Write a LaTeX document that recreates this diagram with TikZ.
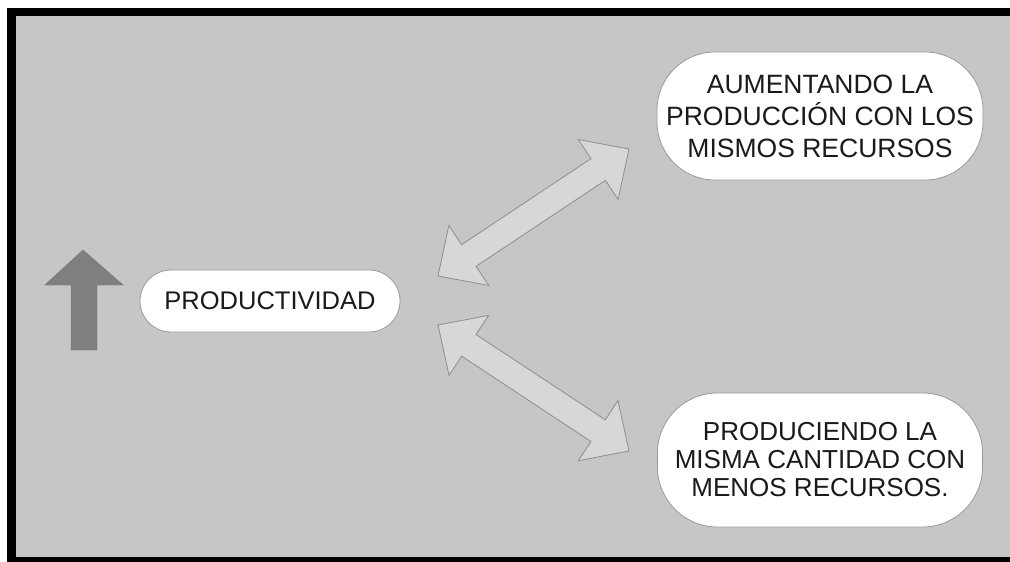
\documentclass[tikz,border=0pt]{standalone}
\usepackage{fontspec}
\setmainfont{Liberation Sans}
\usetikzlibrary{calc}
\definecolor{bggray}{HTML}{C6C6C6}
\definecolor{arrfill}{HTML}{D7D7D7}
\definecolor{arredge}{HTML}{8E8E8E}
\definecolor{upfill}{HTML}{7F7F7F}
\definecolor{pilledge}{HTML}{9A9A9A}
\definecolor{txt}{HTML}{1A1A1A}
\tikzset{
  pill/.style={draw=pilledge, line width=0.8pt, fill=white, align=center,
    text=txt, inner sep=0pt},
  dblarr/.style={draw=arredge, line width=0.8pt, fill=arrfill, line join=miter},
}
\newcommand{\dblarrow}[2]{%
  \path ($(#1)!37pt!(#2)$) coordinate (h1) ($(#2)!37pt!(#1)$) coordinate (h2);
  \draw[dblarr] (#1) -- ($(h1)!36pt!90:(#2)$) -- ($(h1)!13pt!90:(#2)$)
    -- ($(h2)!13pt!-90:(#1)$) -- ($(h2)!36pt!-90:(#1)$) -- (#2)
    -- ($(h2)!36pt!90:(#1)$) -- ($(h2)!13pt!90:(#1)$)
    -- ($(h1)!13pt!-90:(#2)$) -- ($(h1)!36pt!-90:(#2)$) -- cycle;}
\begin{document}
\begin{tikzpicture}[x=1pt,y=-1pt]
\useasboundingbox (0,0) rectangle (1010,562);
\fill[white] (0,0) rectangle (1010,562);
\fill[bggray] (16,16) rectangle (1010,557);
\fill[black] (7,8) rectangle (16,562);
\fill[black] (7,8) rectangle (1010,16);
\fill[black] (7,557) rectangle (1010,562);
% up arrow
\draw[upfill!90!black, line width=0.4pt, fill=upfill] (83,250) -- (123,285) -- (97,285) -- (97,350)
  -- (71,350) -- (71,285) -- (45,285) -- cycle;
% nodes
\node[pill, minimum width=260pt, minimum height=62pt, rounded corners=31pt,
  font=\fontsize{25.5}{30}\selectfont] (prod) at (270,301) {PRODUCTIVIDAD};
\node[pill, minimum width=326pt, minimum height=128pt, rounded corners=58pt,
  font=\fontsize{26.5}{32}\selectfont] (top) at (820,116)
  {AUMENTANDO LA\\PRODUCCIÓN CON LOS\\MISMOS RECURSOS};
\node[pill, minimum width=325pt, minimum height=134pt, rounded corners=60pt,
  font=\fontsize{26}{28}\selectfont] (bot) at (820,460)
  {PRODUCIENDO LA\\MISMA CANTIDAD CON\\MENOS RECURSOS.};
% arrow end points
\coordinate (t1) at (438,276);
\coordinate (t2) at (629,149);
\coordinate (b1) at (438,325);
\coordinate (b2) at (629,451);
\dblarrow{t1}{t2}
\dblarrow{b1}{b2}
\end{tikzpicture}
\end{document}
